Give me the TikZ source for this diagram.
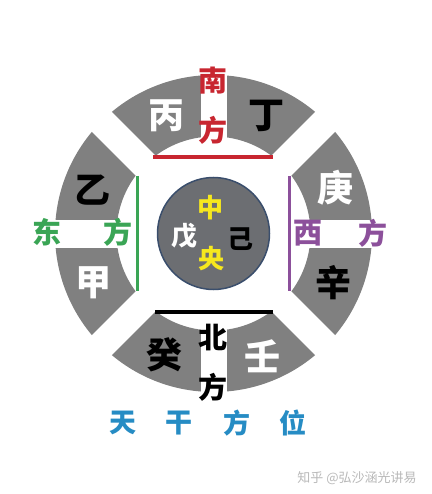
\documentclass[tikz,border=0pt]{standalone}
\usepackage{fontspec}
\newfontfamily\cjk{Noto Sans CJK SC}
\usetikzlibrary{positioning}

\definecolor{sectorgray}{RGB}{128,128,128}
\definecolor{coregray}{RGB}{108,110,114}
\definecolor{coreedge}{RGB}{58,78,108}
\definecolor{southred}{RGB}{200,38,48}
\definecolor{eastgreen}{RGB}{58,165,85}
\definecolor{westpurple}{RGB}{140,80,155}
\definecolor{centeryellow}{RGB}{246,232,30}
\definecolor{titleblue}{RGB}{38,140,196}

\tikzset{
  stem/.style={font=\cjk\bfseries\fontsize{36}{36}\selectfont, inner sep=0pt},
  dirchar/.style={font=\cjk\bfseries\fontsize{29}{29}\selectfont, inner sep=0pt},
  corechar/.style={font=\cjk\bfseries\fontsize{26}{26}\selectfont, inner sep=0pt},
  titlechar/.style={font=\cjk\bfseries\fontsize{27}{27}\selectfont, inner sep=0pt, text=titleblue},
}

\begin{document}
\begin{tikzpicture}[x=1pt, y=-1pt]
\def\cx{213.5}
\def\cy{233.5}

\fill[white] (0,0) rectangle (431,494);
\useasboundingbox (0,0) rectangle (431,494);

% ring, then the white cuts
\fill[sectorgray, even odd rule] (\cx,\cy) circle[radius=158.5pt] (\cx,\cy) circle[radius=97pt];
\draw[white, line width=28pt] (\cx-130,\cy-130) -- (\cx+130,\cy+130);
\draw[white, line width=28pt] (\cx-130,\cy+130) -- (\cx+130,\cy-130);
\draw[white, line width=26pt] (\cx,\cy-170) -- (\cx,\cy+170);
\draw[white, line width=28pt] (\cx-170,\cy) -- (\cx+170,\cy);

\draw[southred, line width=3.5pt] (153,157) -- (273,157);
\draw[black, line width=3.5pt] (155,312) -- (273,312);
\draw[eastgreen, line width=3pt] (137,176) -- (137,291);
\draw[westpurple, line width=3pt] (289,176) -- (289,291);

\filldraw[fill=coregray, draw=coreedge, line width=1.5pt] (\cx,\cy) circle[radius=56pt];

% stems
\node[stem, text=white] (bing) at (166,116) {丙};
\node[stem, text=black] (ding) at (266,116) {丁};
\node[stem, text=black] (yi) at (92,190) {乙};
\node[stem, text=white] (jia) at (93,283) {甲};
\node[stem, text=white] (geng) at (335,188) {庚};
\node[stem, text=black] (xin) at (333,283) {辛};
\node[stem, text=black] (gui) at (164,355) {癸};
\node[stem, text=white] (ren) at (262,356) {壬};

\node[corechar, text=centeryellow] (zhong) at (210,208) {中};
\node[corechar, text=centeryellow] (yang) at (211,259) {央};
\node[corechar, text=white] (wu) at (184,236) {戊};
\node[corechar, text=black] (ji) at (240,239) {己};

% directions
\node[dirchar, text=southred] (nan) at (213,81) {南};
\node[dirchar, text=southred] (nanfang) at (213,130) {方};
\node[dirchar, text=black] (bei) at (213,338) {北};
\node[dirchar, text=black] (beifang) at (213,387) {方};
\node[dirchar, text=eastgreen] (dong) at (47,232) {东};
\node[dirchar, text=eastgreen] (dongfang) at (118,232) {方};
\node[dirchar, text=westpurple] (xi) at (308,233) {西};
\node[dirchar, text=westpurple] (xifang) at (373,233) {方};

\node[titlechar] (tian) at (123,423) {天};
\node[titlechar] (gan) at (179,423) {干};
\node[titlechar] (fang) at (237,423) {方};
\node[titlechar] (wei) at (293,423) {位};

\node[font=\cjk\fontsize{13}{13}\selectfont, text=gray!55, inner sep=0pt] (mark) at (357,478) {知乎 @弘沙涵光讲易};
\end{tikzpicture}
\end{document}
